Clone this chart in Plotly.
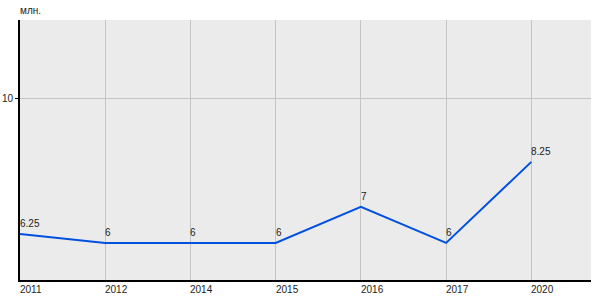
import plotly.graph_objects as go

years = ["2011", "2012", "2014", "2015", "2016", "2017", "2020"]
values = [6.25, 6, 6, 6, 7, 6, 8.25]
labels = ["6.25", "6", "6", "6", "7", "6", "8.25"]
y_ticks = [10]
y_unit = "млн."

idx = list(range(len(years)))
fig = go.Figure()
fig.add_trace(go.Scatter(x=idx, y=values, mode="lines",
                         line=dict(color="#0050e0", width=2), hoverinfo="skip"))

font = dict(family="Liberation Sans, Arial, sans-serif", size=10, color="#222222")
ann = []
for i, (v, t) in enumerate(zip(values, labels)):
    ann.append(dict(x=i, y=v, text=t, showarrow=False, xanchor="left", yanchor="bottom",
                    xshift=-2, yshift=3, font=font))
for i, yr in enumerate(years):
    ann.append(dict(x=i, y=0, yref="paper", text=yr, showarrow=False, xanchor="left",
                    yanchor="top", xshift=-2, yshift=-2, font=font))
ann.append(dict(x=0, y=1, xref="paper", yref="paper", text=y_unit, showarrow=False,
                xanchor="left", yanchor="bottom", xshift=-2, yshift=2, font=font))

fig.update_layout(
    width=600, height=300,
    margin=dict(l=20, r=9, t=20, b=20),
    paper_bgcolor="white", plot_bgcolor="#ebebeb",
    showlegend=False,
    annotations=ann,
    xaxis=dict(range=[0, 6.7], tickvals=idx, showticklabels=False, showgrid=True,
               gridcolor="#c4c4c4", gridwidth=1, zeroline=False, automargin=False,
               showline=True, linecolor="black", linewidth=2),
    yaxis=dict(range=[4.97, 12.19], tickvals=y_ticks, ticktext=["10"], showgrid=True,
               gridcolor="#c4c4c4", gridwidth=1, zeroline=False, ticks="outside",
               ticklen=3, tickcolor="black", tickfont=font, automargin=False,
               showline=True, linecolor="black", linewidth=2),
)
fig.write_html("out.html")
